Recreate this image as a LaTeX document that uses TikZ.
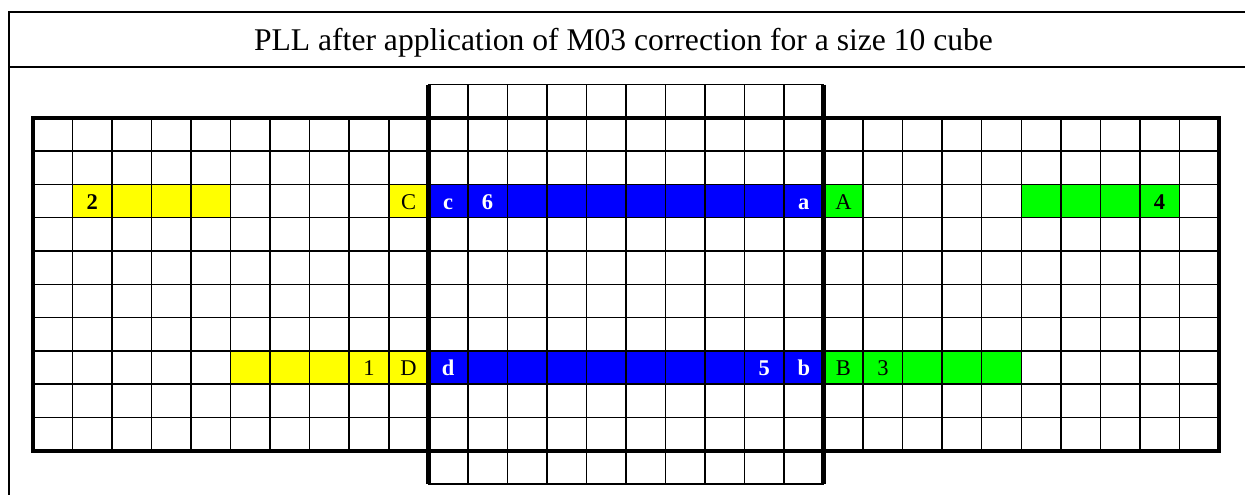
\documentclass[tikz,border=0pt]{standalone}
\usepackage{fontspec}
\setmainfont{Liberation Serif}
% column and row positions of the net, in points
\newcommand{\colx}[1]{(33+39.53*(#1))}
\newcommand{\rowy}[1]{(84.5+33.3*(#1))}
\begin{document}
\begin{tikzpicture}[x=1pt,y=-1pt,
  gridline/.style={line width=1.5pt, black},
  gridthick/.style={line width=4.5pt, black},
  frameline/.style={line width=2pt, black},
  lab/.style={anchor=base, inner sep=0pt, font=\fontsize{22.5}{25}\selectfont},
  labb/.style={lab, font=\fontsize{22.5}{25}\selectfont\bfseries},
  labw/.style={labb, text=white}]
\definecolor{yel}{RGB}{255,255,0}
\definecolor{blu}{RGB}{0,0,255}
\definecolor{grn}{RGB}{0,255,0}
\useasboundingbox (0,0) rectangle (1245,495);

% table frame and title
\draw[frameline] (9,500) -- (9,12) -- (1250,12);
\draw[frameline] (9,67) -- (1250,67);
\node[anchor=base, inner sep=0pt, font=\fontsize{31.6}{36}\selectfont] (title) at (623.5,51)
  {PLL after application of M03 correction for a size 10 cube};

% coloured stickers
\fill[yel] ({\colx{1}},{\rowy{3}}) rectangle ({\colx{5}},{\rowy{4}});
\fill[yel] ({\colx{9}},{\rowy{3}}) rectangle ({\colx{10}},{\rowy{4}});
\fill[blu] ({\colx{10}},{\rowy{3}}) rectangle ({\colx{20}},{\rowy{4}});
\fill[grn] ({\colx{20}},{\rowy{3}}) rectangle ({\colx{21}},{\rowy{4}});
\fill[grn] ({\colx{25}},{\rowy{3}}) rectangle ({\colx{29}},{\rowy{4}});
\fill[yel] ({\colx{5}},{\rowy{8}}) rectangle ({\colx{10}},{\rowy{9}});
\fill[blu] ({\colx{10}},{\rowy{8}}) rectangle ({\colx{20}},{\rowy{9}});
\fill[grn] ({\colx{20}},{\rowy{8}}) rectangle ({\colx{25}},{\rowy{9}});

% thin grid lines: the band of three faces
\foreach \i in {0,...,30}
  \draw[gridline] ({\colx{\i}},{\rowy{1}}) -- ({\colx{\i}},{\rowy{11}});
\foreach \j in {1,...,11}
  \draw[gridline] ({\colx{0}},{\rowy{\j}}) -- ({\colx{30}},{\rowy{\j}});
% thin grid lines: one row of the top and bottom faces
\foreach \i in {10,...,20}
  \draw[gridline] ({\colx{\i}},{\rowy{0}}) -- ({\colx{\i}},{\rowy{12}});
\foreach \j in {0,12}
  \draw[gridline] ({\colx{10}},{\rowy{\j}}) -- ({\colx{20}},{\rowy{\j}});

% face borders
\draw[gridthick] ({\colx{0}},{\rowy{1}}) rectangle ({\colx{30}},{\rowy{11}});
\draw[gridthick] ({\colx{10}},{\rowy{0}}) -- ({\colx{10}},{\rowy{12}});
\draw[gridthick] ({\colx{20}},{\rowy{0}}) -- ({\colx{20}},{\rowy{12}});

% sticker labels, upper row
\node[labb] (n2) at ({\colx{1.5}},{\rowy{4}-8.5}) {2};
\node[lab]  (nC) at ({\colx{9.5}},{\rowy{4}-8.5}) {C};
\node[labw] (nc) at ({\colx{10.5}},{\rowy{4}-8.5}) {c};
\node[labw] (n6) at ({\colx{11.5}},{\rowy{4}-8.5}) {6};
\node[labw] (na) at ({\colx{19.5}},{\rowy{4}-8.5}) {a};
\node[lab]  (nA) at ({\colx{20.5}},{\rowy{4}-8.5}) {A};
\node[labb] (n4) at ({\colx{28.5}},{\rowy{4}-8.5}) {4};
% sticker labels, lower row
\node[lab]  (n1) at ({\colx{8.5}},{\rowy{9}-8.5}) {1};
\node[lab]  (nD) at ({\colx{9.5}},{\rowy{9}-8.5}) {D};
\node[labw] (nd) at ({\colx{10.5}},{\rowy{9}-8.5}) {d};
\node[labw] (n5) at ({\colx{18.5}},{\rowy{9}-8.5}) {5};
\node[labw] (nb) at ({\colx{19.5}},{\rowy{9}-8.5}) {b};
\node[lab]  (nB) at ({\colx{20.5}},{\rowy{9}-8.5}) {B};
\node[lab]  (n3) at ({\colx{21.5}},{\rowy{9}-8.5}) {3};
\end{tikzpicture}
\end{document}
